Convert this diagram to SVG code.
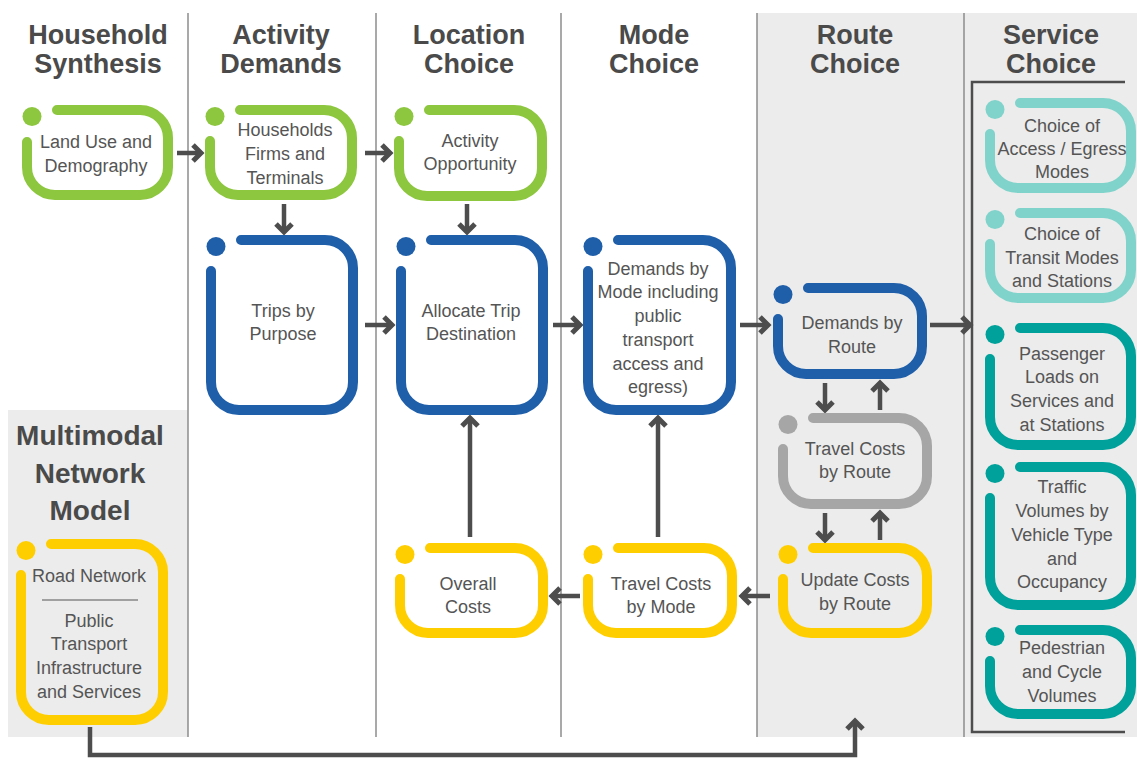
<svg xmlns="http://www.w3.org/2000/svg" width="1137" height="758" viewBox="0 0 1137 758">
<defs>
<style>
.hd{font-family:"Liberation Sans",Arial,sans-serif;font-weight:bold;font-size:27px;fill:#4a4a4a;text-anchor:middle}
.hm{font-size:28px}
.tx{font-family:"Liberation Sans",Arial,sans-serif;font-size:18px;fill:#555;text-anchor:middle}
.nd{fill:none;stroke-width:10;stroke-linecap:round}
.vl{stroke:#8c8c8c;stroke-width:1.5}
.ar{fill:none;stroke:#4d4d4d;stroke-width:4.5}
.g{stroke:#8DC63F}.gf{fill:#8DC63F}
.b{stroke:#1F5FAA}.bf{fill:#1F5FAA}
.s{stroke:#A6A6A6}.sf{fill:#A6A6A6}
.y{stroke:#FFCE00}.yf{fill:#FFCE00}
.lt{stroke:#80D3CB}.ltf{fill:#80D3CB}
.t{stroke:#00A19A}.tf{fill:#00A19A}
</style>
<marker id="ah" markerUnits="userSpaceOnUse" markerWidth="22" markerHeight="22" viewBox="0 0 22 22" refX="16" refY="11" orient="auto" overflow="visible">
<path d="M8,3 L16,11 L8,19" fill="none" stroke="#4d4d4d" stroke-width="5"/>
</marker>
</defs>
<rect width="1137" height="758" fill="#fff"/>
<g id="panels">
<rect x="757" y="13" width="207" height="724" fill="#ececec"/>
<rect x="964" y="13" width="173" height="724" fill="#ececec"/>
<rect x="8" y="410" width="180" height="327" fill="#ececec"/>
<line class="vl" x1="188" y1="13" x2="188" y2="737"/>
<line class="vl" x1="376" y1="13" x2="376" y2="737"/>
<line class="vl" x1="561" y1="13" x2="561" y2="737"/>
<line class="vl" x1="757" y1="13" x2="757" y2="737"/>
<line class="vl" x1="964" y1="13" x2="964" y2="737"/>
<path d="M1125,82 L972,82 L972,732 L1125,732" fill="none" stroke="#4d4d4d" stroke-width="2.5"/>
</g>
<g id="headers">
<text class="hd" x="98" y="44">Household</text><text class="hd" x="98" y="73">Synthesis</text>
<text class="hd" x="281" y="44">Activity</text><text class="hd" x="281" y="73">Demands</text>
<text class="hd" x="469" y="44">Location</text><text class="hd" x="469" y="73">Choice</text>
<text class="hd" x="654" y="44">Mode</text><text class="hd" x="654" y="73">Choice</text>
<text class="hd" x="855" y="44">Route</text><text class="hd" x="855" y="73">Choice</text>
<text class="hd" x="1051" y="44">Service</text><text class="hd" x="1051" y="73">Choice</text>
<text class="hd hm" x="90" y="445">Multimodal</text><text class="hd hm" x="90" y="483">Network</text><text class="hd hm" x="90" y="520">Model</text>
</g>
<g id="connectors">
<path class="ar" marker-end="url(#ah)" d="M177,153 L201,153"/>
<path class="ar" marker-end="url(#ah)" d="M365,153 L390,153"/>
<path class="ar" marker-end="url(#ah)" d="M284,204 L284,232"/>
<path class="ar" marker-end="url(#ah)" d="M467,204 L467,232"/>
<path class="ar" marker-end="url(#ah)" d="M365,325 L392,325"/>
<path class="ar" marker-end="url(#ah)" d="M553,325 L580,325"/>
<path class="ar" marker-end="url(#ah)" d="M740,325 L768,325"/>
<path class="ar" marker-end="url(#ah)" d="M930,325 L970,325"/>
<path class="ar" marker-end="url(#ah)" d="M825,383 L825,410"/>
<path class="ar" marker-end="url(#ah)" d="M880,410 L880,383"/>
<path class="ar" marker-end="url(#ah)" d="M825,513 L825,540"/>
<path class="ar" marker-end="url(#ah)" d="M880,540 L880,513"/>
<path class="ar" marker-end="url(#ah)" d="M770,596 L742,596"/>
<path class="ar" marker-end="url(#ah)" d="M580,596 L552,596"/>
<path class="ar" marker-end="url(#ah)" d="M470,537 L470,418"/>
<path class="ar" marker-end="url(#ah)" d="M658,537 L658,418"/>
<path class="ar" marker-end="url(#ah)" d="M90,727 L90,755 L855,755 L855,721"/>
</g>
<g id="n1">
<path class="nd g" d="M27,142 L27,167 A28,28 0 0 0 55,195 L140,195 A28,28 0 0 0 168,167 L168,138 A28,28 0 0 0 140,110 L57,110"/>
<circle class="gf" cx="32" cy="116.5" r="9.5"/>
<text class="tx" x="96" y="148">Land Use and</text><text class="tx" x="96" y="172">Demography</text>
</g>
<g id="n2">
<path class="nd g" d="M210,141 L210,167 A28,28 0 0 0 238,195 L324,195 A28,28 0 0 0 352,167 L352,138 A28,28 0 0 0 324,110 L240,110"/>
<circle class="gf" cx="215" cy="116.5" r="9.5"/>
<text class="tx" x="285" y="136">Households</text><text class="tx" x="285" y="160">Firms and</text><text class="tx" x="285" y="184">Terminals</text>
</g>
<g id="n3">
<path class="nd g" d="M399,141 L399,168 A28,28 0 0 0 427,196 L514,196 A28,28 0 0 0 542,168 L542,138 A28,28 0 0 0 514,110 L429,110"/>
<circle class="gf" cx="404" cy="116.5" r="9.5"/>
<text class="tx" x="470" y="147">Activity</text><text class="tx" x="470" y="170">Opportunity</text>
</g>
<g id="n4">
<path class="nd b" d="M211,271 L211,382 A28,28 0 0 0 239,410 L325,410 A28,28 0 0 0 353,382 L353,268 A28,28 0 0 0 325,240 L241,240"/>
<circle class="bf" cx="216" cy="246.5" r="9.5"/>
<text class="tx" x="283" y="317">Trips by</text><text class="tx" x="283" y="340">Purpose</text>
</g>
<g id="n5">
<path class="nd b" d="M401,271 L401,382 A28,28 0 0 0 429,410 L515,410 A28,28 0 0 0 543,382 L543,268 A28,28 0 0 0 515,240 L431,240"/>
<circle class="bf" cx="406" cy="246.5" r="9.5"/>
<text class="tx" x="471" y="317">Allocate Trip</text><text class="tx" x="471" y="340">Destination</text>
</g>
<g id="n6">
<path class="nd b" d="M588,271 L588,382 A28,28 0 0 0 616,410 L703,410 A28,28 0 0 0 731,382 L731,268 A28,28 0 0 0 703,240 L618,240"/>
<circle class="bf" cx="593" cy="246.5" r="9.5"/>
<text class="tx" x="658" y="275">Demands by</text><text class="tx" x="658" y="298">Mode including</text><text class="tx" x="658" y="322">public</text><text class="tx" x="658" y="346">transport</text><text class="tx" x="658" y="370">access and</text><text class="tx" x="658" y="393">egress)</text>
</g>
<g id="n7">
<path class="nd b" d="M778,319 L778,346 A28,28 0 0 0 806,374 L894,374 A28,28 0 0 0 922,346 L922,316 A28,28 0 0 0 894,288 L808,288"/>
<circle class="bf" cx="783" cy="294.5" r="9.5"/>
<text class="tx" x="852" y="329">Demands by</text><text class="tx" x="852" y="353">Route</text>
</g>
<g id="n8">
<path class="nd s" d="M783,449 L783,476 A28,28 0 0 0 811,504 L899,504 A28,28 0 0 0 927,476 L927,446 A28,28 0 0 0 899,418 L813,418"/>
<circle class="sf" cx="788" cy="424.5" r="9.5"/>
<text class="tx" x="855" y="455">Travel Costs</text><text class="tx" x="855" y="478">by Route</text>
</g>
<g id="n9">
<path class="nd y" d="M783,579 L783,605 A28,28 0 0 0 811,633 L899,633 A28,28 0 0 0 927,605 L927,576 A28,28 0 0 0 899,548 L813,548"/>
<circle class="yf" cx="788" cy="554.5" r="9.5"/>
<text class="tx" x="855" y="586">Update Costs</text><text class="tx" x="855" y="610">by Route</text>
</g>
<g id="n10">
<path class="nd y" d="M588,579 L588,605 A28,28 0 0 0 616,633 L704,633 A28,28 0 0 0 732,605 L732,576 A28,28 0 0 0 704,548 L618,548"/>
<circle class="yf" cx="593" cy="554.5" r="9.5"/>
<text class="tx" x="661" y="590">Travel Costs</text><text class="tx" x="661" y="613">by Mode</text>
</g>
<g id="n11">
<path class="nd y" d="M400,579 L400,605 A28,28 0 0 0 428,633 L515,633 A28,28 0 0 0 543,605 L543,576 A28,28 0 0 0 515,548 L430,548"/>
<circle class="yf" cx="405" cy="554.5" r="9.5"/>
<text class="tx" x="468" y="590">Overall</text><text class="tx" x="468" y="613">Costs</text>
</g>
<g id="n12">
<path class="nd y" d="M21,575 L21,692 A28,28 0 0 0 49,720 L135,720 A28,28 0 0 0 163,692 L163,572 A28,28 0 0 0 135,544 L51,544"/>
<circle class="yf" cx="26" cy="550.5" r="9.5"/>
<text class="tx" x="89" y="582">Road Network</text>
<line x1="42" y1="600" x2="138" y2="600" stroke="#555" stroke-width="1.2"/>
<text class="tx" x="89" y="627">Public</text><text class="tx" x="89" y="650">Transport</text><text class="tx" x="89" y="674">Infrastructure</text><text class="tx" x="89" y="698">and Services</text>
</g>
<g id="n13">
<path class="nd lt" d="M990,134 L990,160 A28,28 0 0 0 1018,188 L1103,188 A28,28 0 0 0 1131,160 L1131,131 A28,28 0 0 0 1103,103 L1020,103"/>
<circle class="ltf" cx="995" cy="109.5" r="9.5"/>
<text class="tx" x="1062" y="132">Choice of</text><text class="tx" x="1062" y="155">Access / Egress</text><text class="tx" x="1062" y="178">Modes</text>
</g>
<g id="n14">
<path class="nd lt" d="M990,244 L990,270 A28,28 0 0 0 1018,298 L1103,298 A28,28 0 0 0 1131,270 L1131,241 A28,28 0 0 0 1103,213 L1020,213"/>
<circle class="ltf" cx="995" cy="219.5" r="9.5"/>
<text class="tx" x="1062" y="240">Choice of</text><text class="tx" x="1062" y="264">Transit Modes</text><text class="tx" x="1062" y="287">and Stations</text>
</g>
<g id="n15">
<path class="nd t" d="M990,359 L990,417 A28,28 0 0 0 1018,445 L1103,445 A28,28 0 0 0 1131,417 L1131,356 A28,28 0 0 0 1103,328 L1020,328"/>
<circle class="tf" cx="995" cy="334.5" r="9.5"/>
<text class="tx" x="1062" y="360">Passenger</text><text class="tx" x="1062" y="383">Loads on</text><text class="tx" x="1062" y="407">Services and</text><text class="tx" x="1062" y="431">at Stations</text>
</g>
<g id="n16">
<path class="nd t" d="M990,498 L990,577 A28,28 0 0 0 1018,605 L1103,605 A28,28 0 0 0 1131,577 L1131,495 A28,28 0 0 0 1103,467 L1020,467"/>
<circle class="tf" cx="995" cy="473.5" r="9.5"/>
<text class="tx" x="1062" y="493">Traffic</text><text class="tx" x="1062" y="517">Volumes by</text><text class="tx" x="1062" y="541">Vehicle Type</text><text class="tx" x="1062" y="565">and</text><text class="tx" x="1062" y="588">Occupancy</text>
</g>
<g id="n17">
<path class="nd t" d="M990,661 L990,686 A28,28 0 0 0 1018,714 L1103,714 A28,28 0 0 0 1131,686 L1131,658 A28,28 0 0 0 1103,630 L1020,630"/>
<circle class="tf" cx="995" cy="636.5" r="9.5"/>
<text class="tx" x="1062" y="654">Pedestrian</text><text class="tx" x="1062" y="678">and Cycle</text><text class="tx" x="1062" y="702">Volumes</text>
</g>
</svg>
